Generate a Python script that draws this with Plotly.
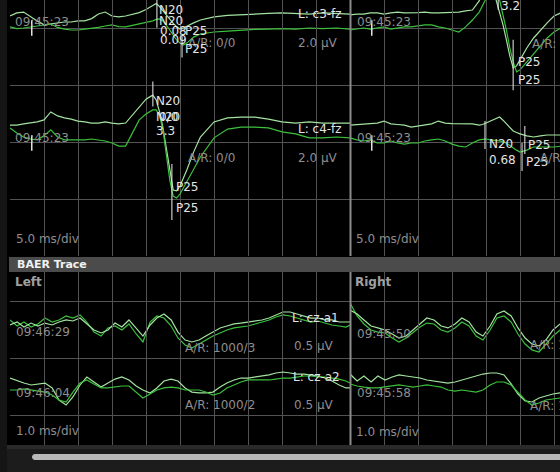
import plotly.graph_objects as go

# ---------------- DATA ----------------
# SEP (upper section, 5.0 ms/div, 2.0 uV/div) sample times in ms
SEP_T_LEFT = [0, 1, 2, 3, 4, 5, 6, 7, 8, 9, 10, 11, 12, 13, 14, 15, 16, 17, 18, 19, 20,
              20.5, 21, 21.5, 22, 22.5, 23, 23.5, 24, 24.5, 25, 25.5, 26,
              27, 28, 30, 32, 34, 36, 38, 40, 42, 44, 46, 48, 50]
SEP_T_RIGHT = [0, 1, 2, 3, 4, 5, 6, 7, 8, 9, 10, 11, 12, 13, 14, 15, 16, 17, 18, 19,
               19.5, 20, 20.5, 21, 21.5, 22, 22.5, 23, 23.5, 24, 24.5, 25,
               26, 27, 28, 29, 30, 31]

# L: c3-fz (uV)
C3_LEFT_A = [0.42, 0.53, 0.56, 0.39, 0.25, 0.11, 0.14, 0.19, 0.21, 0.21, 0.25, 0.25, 0.33, 0.49, 0.56,
             0.42, 0.39, 0.42, 0.47, 0.54, 0.65,
             0.72, 0.79, 0.86, 0.75, 0.60, 0.42, 0.28, 0.16, 0.05, -0.04, 0.00, 0.07,
             0.18, 0.28, 0.39, 0.44, 0.47, 0.49, 0.51, 0.53, 0.51, 0.49, 0.53, 0.51, 0.49]
C3_LEFT_B = [0.04, -0.02, 0.0, 0.04, 0.07, 0.11, 0.14, 0.02, -0.04, -0.07, -0.07, -0.04, -0.02, 0.02, 0.07,
             0.11, 0.05, 0.04, 0.09, 0.14, 0.19,
             0.21, 0.25, 0.30, 0.32, 0.25, 0.11, -0.07, -0.25, -0.42, -0.53, -0.60, -0.53,
             -0.32, -0.21, -0.14, -0.11, -0.07, -0.05, -0.04, -0.02, -0.04, 0.0, -0.02, 0.0, -0.04]
C3_RIGHT_A = [0.46, 0.49, 0.49, 0.53, 0.53, 0.49, 0.53, 0.56, 0.53, 0.53, 0.54, 0.56, 0.53, 0.53, 0.54,
              0.56, 0.56, 0.60, 0.63, 0.95,
              1.26, 1.40, 1.47, 1.40, 0.98, 0.56, 0.11, -0.42, -0.98, -1.40, -1.33, -1.12,
              -0.70, -0.35, -0.07, 0.18, 0.42, 0.53]
C3_RIGHT_B = [-0.07, -0.04, 0.0, -0.04, 0.0, 0.04, -0.04, 0.0, 0.04, 0.04, 0.07, 0.11, 0.11, 0.04, 0.0,
              -0.07, -0.14, 0.04, 0.28, 0.56,
              0.81, 1.05, 1.26, 1.33, 1.26, 0.98, 0.49, -0.07, -0.70, -1.19, -1.54, -1.47,
              -1.19, -0.91, -0.63, -0.35, -0.14, 0.0]

# L: c4-fz (uV)
C4_LEFT_A = [0.63, 0.63, 0.67, 0.70, 0.74, 0.81, 1.09, 0.95, 0.88, 0.84, 0.77, 0.74, 0.70, 0.70, 0.74,
             0.70, 0.67, 0.70, 0.98, 1.30, 1.54,
             1.61, 1.68, 1.51, 1.09, 0.53, -0.18, -1.02, -1.65, -1.68, -1.51, -1.23, -0.95,
             -0.32, 0.21, 0.74, 0.88, 0.91, 0.91, 0.84, 0.74, 0.70, 0.74, 0.70, 0.70, 0.70]
C4_LEFT_B = [0.53, 0.35, 0.21, 0.14, 0.11, 0.25, 0.46, 0.21, 0.11, 0.11, 0.11, 0.11, 0.14, 0.11, 0.07,
             0.0, -0.11, -0.11, 0.35, 0.81, 1.02,
             1.09, 1.16, 1.16, 0.95, 0.46, -0.42, -1.30, -1.86, -1.93, -1.79, -1.58, -1.37,
             -0.95, -0.49, 0.18, 0.49, 0.56, 0.56, 0.53, 0.39, 0.32, 0.18, 0.18, 0.21, 0.18]
C4_RIGHT_A = [0.63, 0.65, 0.67, 0.68, 0.70, 0.77, 0.67, 0.65, 0.63, 0.56, 0.60, 0.63, 0.67, 0.77, 0.70,
              0.68, 0.67, 0.67, 0.67, 0.63,
              0.65, 0.70, 0.75, 0.81, 0.86, 0.91, 0.80, 0.67, 0.55, 0.42, 0.37, 0.32,
              0.25, 0.21, 0.25, 0.28, 0.28, 0.28]
C4_RIGHT_B = [0.18, 0.11, 0.07, 0.11, 0.0, 0.0, 0.07, 0.0, -0.04, 0.0, 0.0, 0.07, 0.11, 0.14, 0.07,
              -0.04, -0.11, -0.14, 0.0, 0.11,
              0.13, 0.14, 0.12, 0.11, 0.09, 0.07, 0.04, 0.0, -0.09, -0.18, -0.25, -0.32,
              -0.25, -0.14, -0.14, -0.14, -0.14, -0.11]

# BAER (lower section, 1.0 ms/div, 0.5 uV/div) sample times in ms
BAER_T_LEFT = [0, 0.21, 0.41, 0.62, 0.82, 1.03, 1.24, 1.44, 1.65, 1.85, 2.06, 2.26, 2.47, 2.68, 2.88,
               3.09, 3.29, 3.50, 3.71, 3.91, 4.12, 4.32, 4.53, 4.74, 4.94, 5.15, 5.35, 5.56, 5.76,
               5.97, 6.18, 6.38, 6.59, 6.79, 7.00, 7.21, 7.41, 7.62, 7.82, 8.03, 8.24, 8.44, 8.65,
               8.85, 9.06, 9.26, 9.47, 9.68, 9.88, 10.0]
BAER_T_RIGHT = [0, 0.21, 0.41, 0.62, 0.82, 1.03, 1.24, 1.44, 1.65, 1.85, 2.06, 2.26, 2.47, 2.68, 2.88,
                3.09, 3.29, 3.50, 3.71, 3.91, 4.12, 4.32, 4.53, 4.74, 4.94, 5.15, 5.35, 5.56, 5.76,
                5.97, 6.18]

# L: cz-a1 (uV)
CZA1_LEFT_A = [0.088, 0.035, 0.070, 0.026, 0.053, 0.105, 0.070, 0.088, 0.123, 0.105,
               0.132, 0.070, -0.018, -0.053, 0.018, 0.035, 0.0, 0.053, -0.035, -0.105,
               0.070, 0.123, 0.105, 0.035, -0.070, -0.132, -0.158, -0.123, -0.088, -0.053,
               -0.026, 0.0, 0.018, 0.026, 0.035, 0.053, 0.070, 0.088, 0.114, 0.132,
               0.123, 0.105, 0.088, 0.070, 0.079, 0.061, 0.044, 0.035, 0.026, 0.044]
CZA1_LEFT_B = [0.044, 0.070, 0.026, 0.061, 0.035, 0.061, 0.044, 0.070, 0.088, 0.079,
               0.105, 0.053, 0.0, -0.026, 0.0, 0.061, 0.026, 0.088, 0.018, -0.053,
               0.044, 0.105, 0.140, 0.088, -0.018, -0.088, -0.105, -0.088, -0.053, -0.018,
               0.018, 0.035, 0.053, 0.061, 0.070, 0.079, 0.088, 0.105, 0.132, 0.158,
               0.158, 0.140, 0.123, 0.105, 0.105, 0.088, 0.088, 0.070, 0.070, 0.070]
CZA1_RIGHT_A = [0.237, 0.123, 0.053, 0.0, -0.018, -0.026, -0.070, -0.105, -0.070, -0.026,
                0.026, 0.061, 0.053, 0.0, -0.018, 0.018, 0.070, 0.035, -0.053, -0.088,
                0.0, 0.105, 0.123, 0.070, -0.035, -0.123, -0.175, -0.193, -0.123, -0.053, 0.0]
CZA1_RIGHT_B = [0.175, 0.140, 0.088, 0.035, 0.018, 0.0, -0.035, -0.070, -0.053, 0.0,
                0.053, 0.105, 0.088, 0.035, 0.018, 0.053, 0.105, 0.070, -0.018, -0.053,
                0.035, 0.140, 0.167, 0.123, 0.018, -0.070, -0.123, -0.140, -0.088, 0.0, 0.053]

# L: cz-a2 (uV)
CZA2_LEFT_A = [0.105, 0.079, 0.061, 0.044, 0.053, 0.061, 0.018, -0.088, -0.132, -0.061,
               0.044, 0.114, 0.070, 0.026, 0.061, 0.096, 0.114, 0.088, 0.035, 0.0,
               -0.026, 0.018, 0.079, 0.096, 0.079, 0.018, -0.018, -0.026, -0.026, -0.018,
               0.026, 0.061, 0.088, 0.105, 0.105, 0.114, 0.123, 0.132, 0.149, 0.158,
               0.149, 0.140, 0.140, 0.132, 0.123, 0.105, 0.079, 0.044, 0.018, 0.018]
CZA2_LEFT_B = [0.0, 0.0, 0.009, 0.0, -0.009, -0.018, -0.044, -0.088, -0.105, -0.018,
               0.061, 0.088, 0.053, 0.018, 0.018, 0.026, 0.035, 0.035, -0.018, -0.070,
               -0.035, 0.0, 0.018, 0.026, 0.018, 0.0, 0.0, 0.0, -0.018, -0.044,
               -0.026, 0.018, 0.044, 0.070, 0.088, 0.088, 0.088, 0.088, 0.096, 0.105,
               0.105, 0.114, 0.123, 0.123, 0.114, 0.114, 0.105, 0.096, 0.079, 0.061]
CZA2_RIGHT_A = [0.140, 0.079, 0.123, 0.070, 0.123, 0.088, 0.114, 0.132, 0.123, 0.114,
                0.105, 0.088, 0.079, 0.070, 0.061, 0.070, 0.088, 0.105, 0.123, 0.140,
                0.149, 0.149, 0.132, 0.053, -0.035, -0.096, -0.105, -0.070, -0.053, -0.035, -0.026]
CZA2_RIGHT_B = [0.053, 0.035, 0.026, 0.018, 0.018, 0.026, 0.035, 0.044, 0.035, 0.026,
                0.035, 0.044, 0.035, 0.026, 0.0, -0.009, 0.0, -0.009, -0.018, 0.0,
                0.044, 0.070, 0.070, 0.044, -0.018, -0.088, -0.132, -0.114, -0.088, -0.079, -0.070]

# Stimulus onset markers (ms, uV) and peak cursor markers (ms, uV)
ONSET_T = [3.2]
ONSET_V = [0.0]
C3_LEFT_PEAK_T = [21.6, 25.3]
C3_LEFT_PEAK_V = [0.60, -0.67]
C3_RIGHT_PEAK_T = [21.8, 24.0]
C3_RIGHT_PEAK_V = [0.98, -1.30]
C4_LEFT_PEAK_T = [21.0, 23.8]
C4_LEFT_PEAK_V = [1.72, -1.72]
C4_RIGHT_PEAK_T = [19.85, 25.7, 25.3]
C4_RIGHT_PEAK_V = [0.28, 0.105, -0.49]

# ---------------- LAYOUT ----------------
W, H = 560, 472
def fx(p):
    return p / W
def fy(p):
    return 1 - p / H

SEP_PX_PER_UV = 57 / 2.0
BAER_PX_PER_UV = 57 / 0.5
SEP_PX_PER_MS = 34 / 5.0
BAER_PX_PER_MS = 34 / 1.0

GRID = "#525252"
COL_A = "#a3e3a0"
COL_B = "#3cc13c"
WHITE = "#e4e4e4"
GRAY = "#8e8e8e"
FONT = "DejaVu Sans"

fig = go.Figure()

def line(t, v, xa, ya, color):
    fig.add_trace(go.Scatter(x=t, y=v, xaxis=xa, yaxis=ya, mode="lines",
                             line=dict(color=color, width=1.2), hoverinfo="skip"))

def marks(t, v, xa, ya, sizes):
    fig.add_trace(go.Scatter(x=t, y=v, xaxis=xa, yaxis=ya, mode="markers",
                             marker=dict(symbol="line-ns", size=sizes,
                                         line=dict(color=WHITE, width=1.5)),
                             hoverinfo="skip"))

# upper section
line(SEP_T_LEFT, C3_LEFT_A, "x", "y", COL_A)
line(SEP_T_LEFT, C3_LEFT_B, "x", "y", COL_B)
line(SEP_T_RIGHT, C3_RIGHT_A, "x2", "y", COL_A)
line(SEP_T_RIGHT, C3_RIGHT_B, "x2", "y", COL_B)
line(SEP_T_LEFT, C4_LEFT_A, "x", "y2", COL_A)
line(SEP_T_LEFT, C4_LEFT_B, "x", "y2", COL_B)
line(SEP_T_RIGHT, C4_RIGHT_A, "x2", "y2", COL_A)
line(SEP_T_RIGHT, C4_RIGHT_B, "x2", "y2", COL_B)
# lower section
line(BAER_T_LEFT, CZA1_LEFT_A, "x3", "y3", COL_B)
line(BAER_T_LEFT, CZA1_LEFT_B, "x3", "y3", COL_A)
line(BAER_T_RIGHT, CZA1_RIGHT_A, "x4", "y3", COL_B)
line(BAER_T_RIGHT, CZA1_RIGHT_B, "x4", "y3", COL_A)
line(BAER_T_LEFT, CZA2_LEFT_A, "x3", "y4", COL_A)
line(BAER_T_LEFT, CZA2_LEFT_B, "x3", "y4", COL_B)
line(BAER_T_RIGHT, CZA2_RIGHT_A, "x4", "y4", COL_A)
line(BAER_T_RIGHT, CZA2_RIGHT_B, "x4", "y4", COL_B)

# markers
for xa, ya in (("x", "y"), ("x2", "y"), ("x", "y2"), ("x2", "y2")):
    marks(ONSET_T, ONSET_V, xa, ya, 11)
marks(C3_LEFT_PEAK_T, C3_LEFT_PEAK_V, "x", "y", [24, 15])
marks(C3_RIGHT_PEAK_T, C3_RIGHT_PEAK_V, "x2", "y", [14, 36])
marks(C4_LEFT_PEAK_T, C4_LEFT_PEAK_V, "x", "y2", [18, 40])
marks(C4_RIGHT_PEAK_T, C4_RIGHT_PEAK_V, "x2", "y2", [20, 20, 20])

axis_common = dict(showticklabels=False, ticks="", zeroline=False, showline=False,
                   fixedrange=True, gridcolor=GRID, gridwidth=1)

up_dom = [fy(256), 1.0]
lo_dom = [fy(445), fy(272)]
left_dom = [fx(10), fx(350)]
right_dom = [fx(350), 1.0]

fig.update_layout(
    width=W, height=H, margin=dict(l=0, r=0, t=0, b=0),
    paper_bgcolor="#000000", plot_bgcolor="rgba(0,0,0,0)",
    showlegend=False, hovermode=False,
    xaxis=dict(domain=left_dom, range=[0, 50], tick0=0, dtick=5, showgrid=True, anchor="y", **axis_common),
    xaxis2=dict(domain=right_dom, range=[0, 210 / SEP_PX_PER_MS], tick0=0, dtick=5, showgrid=True, anchor="y", **axis_common),
    xaxis3=dict(domain=left_dom, range=[0, 10], tick0=0, dtick=1, showgrid=True, anchor="y3", **axis_common),
    xaxis4=dict(domain=right_dom, range=[0, 210 / BAER_PX_PER_MS], tick0=0, dtick=1, showgrid=True, anchor="y3", **axis_common),
    yaxis=dict(domain=up_dom, range=[-(256 - 28) / SEP_PX_PER_UV, 28 / SEP_PX_PER_UV], tick0=0, dtick=2,
               showgrid=True, anchor="x", **axis_common),
    yaxis2=dict(domain=up_dom, range=[-(256 - 143) / SEP_PX_PER_UV, 143 / SEP_PX_PER_UV],
                showgrid=False, anchor="x", **axis_common),
    yaxis3=dict(domain=lo_dom, range=[-(445 - 330) / BAER_PX_PER_UV, (330 - 272) / BAER_PX_PER_UV], tick0=0.25, dtick=0.5,
                showgrid=True, anchor="x3", **axis_common),
    yaxis4=dict(domain=lo_dom, range=[-(445 - 390) / BAER_PX_PER_UV, (390 - 272) / BAER_PX_PER_UV],
                showgrid=False, anchor="x3", **axis_common),
)

# ---------------- SHAPES (screen chrome) ----------------
shapes = []
def rect(x0, y0, x1, y1, color):
    shapes.append(dict(type="rect", xref="paper", yref="paper", x0=fx(x0), x1=fx(x1),
                       y0=fy(y1), y1=fy(y0), fillcolor=color, line=dict(width=0), layer="above"))

rect(0, 0, 7, 472, "#151515")
rect(9, 257, 560, 272, "#4b4b4b")
rect(7, 445, 560, 472, "#1c1c1c")
rect(7, 445, 560, 449, "#2a2a2a")
# divider between left and right panels
for ya, yb in ((0, 256), (272, 445)):
    shapes.append(dict(type="line", xref="paper", yref="paper", x0=fx(350.5), x1=fx(350.5),
                       y0=fy(yb), y1=fy(ya), line=dict(color="#8c8c8c", width=2), layer="above"))
# scroll thumb
xa, xb, yt, yb2 = fx(35), 1.02, fy(454), fy(460)
shapes.append(dict(type="path", xref="paper", yref="paper",
                   path=f"M {xa} {yt} L {xb} {yt} L {xb} {yb2} L {xa} {yb2} "
                        f"C {fx(31)} {yb2} {fx(31)} {yt} {xa} {yt} Z",
                   fillcolor="#b9b9b9", line=dict(width=0), layer="above"))
fig.update_layout(shapes=shapes)

# ---------------- TEXT ----------------
anns = []
def lab(text, x, y, color=GRAY, size=12, bold=False):
    anns.append(dict(text=f"<b>{text}</b>" if bold else text, xref="paper", yref="paper",
                     x=fx(x), y=fy(y), xanchor="left", yanchor="middle", showarrow=False,
                     font=dict(family=FONT, size=size, color=color)))

# c3-fz
lab("09:45:23", 13, 22)
lab("N20", 157, 10, WHITE)
lab("N20", 157, 21, WHITE)
lab("0.08", 158, 31, WHITE)
lab("P25", 183, 31, WHITE)
lab("0.09", 158, 40, WHITE)
lab("A/R: 0/0", 186, 43)
lab("P25", 183, 49, WHITE)
lab("L: c3-fz", 296, 14, WHITE)
lab("2.0 µV", 296, 43)
lab("09:45:23", 355, 22)
lab("3.2", 499, 6, WHITE)
lab("P25", 516, 62, WHITE)
lab("P25", 516, 80, WHITE)
lab("A/R: 0/0", 530, 44)
# c4-fz
lab("09:45:23", 13, 138)
lab("N20", 154, 101, WHITE)
lab("N20", 154, 117, WHITE)
lab("0/0", 157, 117, WHITE)
lab("3.3", 154, 131, WHITE)
lab("A/R: 0/0", 186, 158)
lab("P25", 174, 187, WHITE)
lab("P25", 174, 208, WHITE)
lab("L: c4-fz", 296, 129, WHITE)
lab("2.0 µV", 296, 158)
lab("09:45:23", 355, 138)
lab("N20", 487, 144, WHITE)
lab("0.68", 487, 160, WHITE)
lab("P25", 526, 145, WHITE)
lab("P25", 524, 162, WHITE)
lab("A/R: 0/0", 538, 158)
lab("5.0 ms/div", 14, 239)
lab("5.0 ms/div", 354, 239)
# BAER header
lab("BAER Trace", 15, 264, "#f2f2f2", 11, True)
lab("Left", 13, 282, "#a0a0a0", 12, True)
lab("Right", 353, 282, "#a0a0a0", 12, True)
# cz-a1
lab("09:46:29", 14, 332)
lab("A/R: 1000/3", 183, 348)
lab("L: cz-a1", 290, 318, WHITE)
lab("0.5 µV", 292, 346)
lab("09:45:50", 355, 334)
lab("A/R: 1000/3", 528, 345)
# cz-a2
lab("09:46:04", 14, 393)
lab("A/R: 1000/2", 183, 405)
lab("L: cz-a2", 291, 377, WHITE)
lab("0.5 µV", 292, 405)
lab("09:45:58", 355, 393)
lab("A/R: 1000/2", 528, 406)
lab("1.0 ms/div", 14, 431)
lab("1.0 ms/div", 354, 432)
fig.update_layout(annotations=anns)

fig.write_html("out.html", config={"displayModeBar": False},
               post_script="document.body.style.margin='0';document.body.style.overflow='hidden';"
                           "document.body.style.background='#000';")
